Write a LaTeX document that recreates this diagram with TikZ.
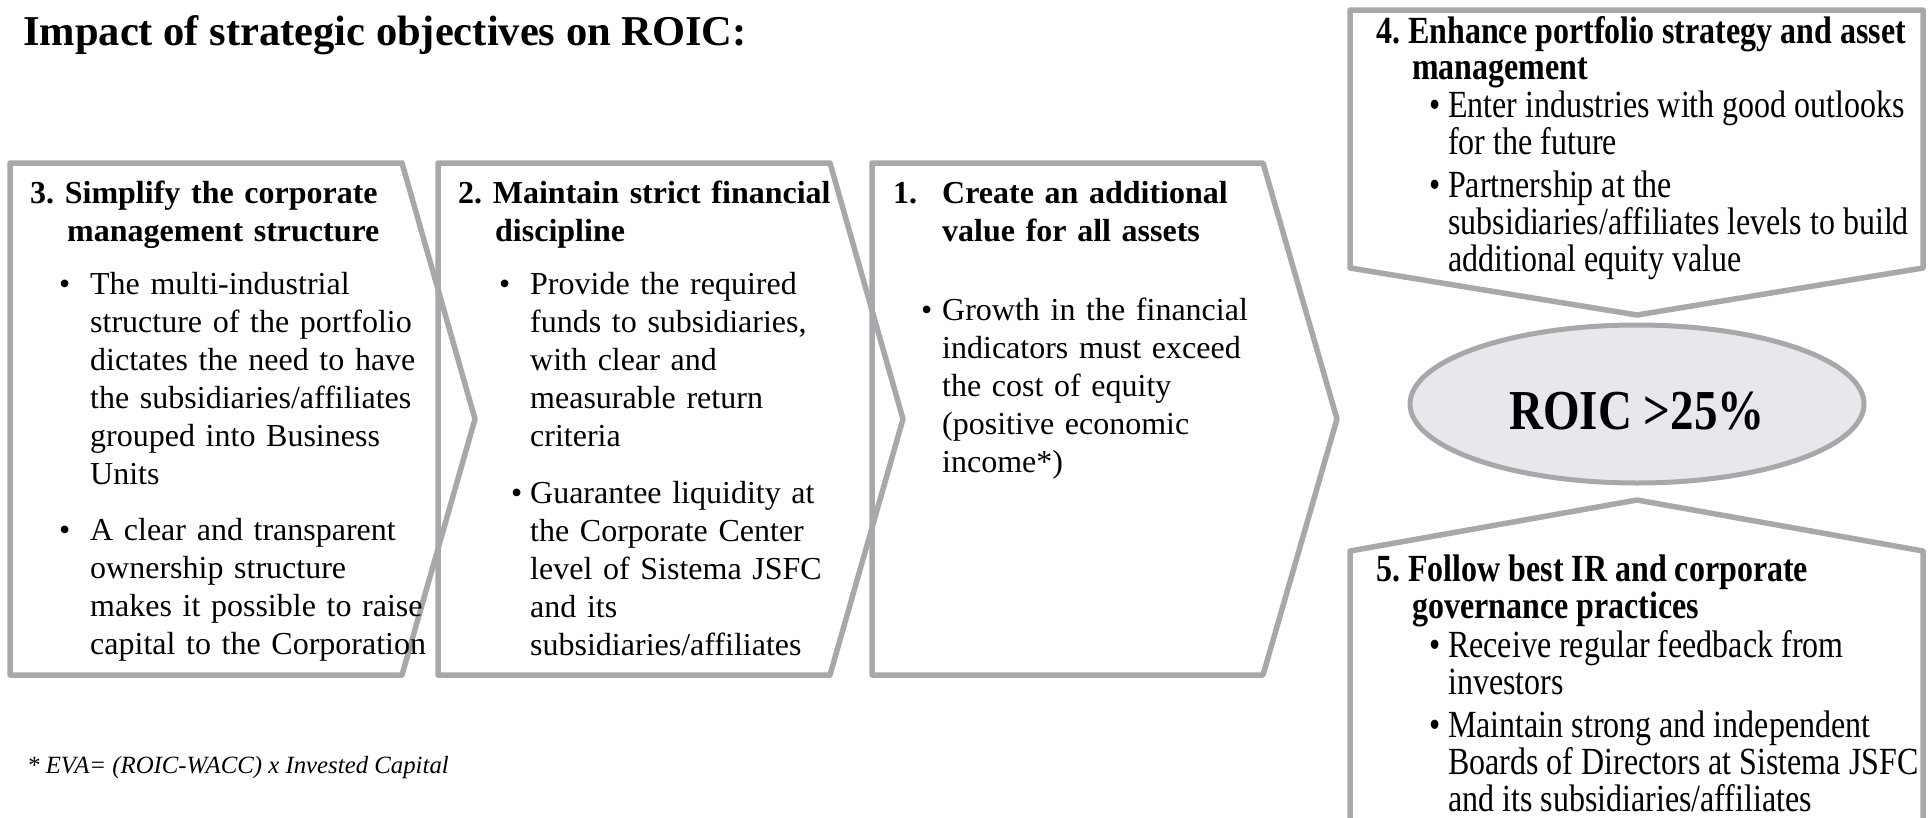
\documentclass[tikz,border=0pt]{standalone}
\usepackage{fontspec}
\usepackage{graphicx}
\setmainfont{Liberation Serif}
\usetikzlibrary{shapes.geometric}
\definecolor{edgegrey}{HTML}{A6A8AB}
\definecolor{ovalfill}{HTML}{E6E8EC}
\newcommand{\nl}{\hfil\break}
\newcommand{\hdline}[2]{\noindent\hangindent=#1\hangafter=1 \textbf{#2}\par}
\newcommand{\bulitem}[3]{\noindent\hangindent=#2\hangafter=1 \makebox[#2][l]{\hspace{#1}\textbullet}#3\par}
\newcommand{\tallbox}[1]{\scalebox{1}[1.2]{\parbox[t]{560pt}{#1}}}
\tikzset{
  outline/.style={draw=edgegrey, line width=5.5pt, line join=round},
  bodytext/.style={anchor=base west, inner sep=0pt, text width=620pt,
    font=\fontsize{32}{38}\selectfont\frenchspacing},
  sidetext/.style={anchor=base west, inner sep=0pt,
    font=\fontsize{32}{30.83}\selectfont\frenchspacing},
}
\begin{document}
\begin{tikzpicture}[x=1pt, y=-1pt]
\useasboundingbox (0,0) rectangle (1931,817);

% title
\node[anchor=base west, inner sep=0pt, font=\fontsize{42.5}{48}\selectfont\bfseries] (title) at (23,45)
  {Impact of strategic objectives on ROIC:};

% chevrons
\draw[outline] (10,163) -- (402,163) -- (475,419) -- (402,675) -- (10,675) -- cycle;
\draw[outline] (438,163) -- (830,163) -- (903,419) -- (830,675) -- (438,675) -- cycle;
\draw[outline] (872,163) -- (1263,163) -- (1337,419) -- (1263,675) -- (872,675) -- cycle;

% box 4 (pointing down)
\draw[outline] (1350,10) -- (1923,10) -- (1923,268) -- (1637,315) -- (1350,268) -- cycle;
% box 5 (pointing up, open at bottom)
\draw[outline] (1350,830) -- (1350,551) -- (1637,500) -- (1923,551) -- (1923,830);

% ellipse
\node[ellipse, draw=edgegrey, line width=5pt, fill=ovalfill, minimum width=454pt, minimum height=158pt,
  inner sep=0pt] (roic) at (1637,404) {};
\node[inner sep=0pt, font=\fontsize{47}{50}\selectfont\bfseries] (roictext) at (1637,411)
  {\scalebox{1}[1.2]{ROIC >25\%}};

% text chevron 3
\node[bodytext] (c3) at (30,203) {%
\hdline{37pt}{3. Simplify the corporate\nl management structure}
\vspace{15pt}
\bulitem{29pt}{60pt}{The multi-industrial\nl structure of the portfolio\nl dictates the need to have\nl the subsidiaries/affiliates\nl grouped into Business\nl Units}
\vspace{18pt}
\bulitem{29pt}{60pt}{A clear and transparent\nl ownership structure\nl makes it possible to raise\nl capital to the Corporation}};

% text chevron 2
\node[bodytext] (c2) at (458,203) {%
\hdline{37pt}{2. Maintain strict financial\nl discipline}
\vspace{15pt}
\bulitem{41pt}{72pt}{Provide the required\nl funds to subsidiaries,\nl with clear and\nl measurable return\nl criteria}
\vspace{19pt}
\bulitem{53pt}{72pt}{Guarantee liquidity at\nl the Corporate Center\nl level of Sistema JSFC\nl and its\nl subsidiaries/affiliates}};

% text chevron 1
\node[bodytext] (c1) at (893,203) {%
\hdline{49pt}{\makebox[49pt][l]{1.}Create an additional\nl value for all assets}
\vspace{41pt}
\bulitem{28pt}{49pt}{Growth in the financial\nl indicators must exceed\nl the cost of equity\nl (positive economic\nl income*)}};

% text box 4
\node[sidetext] (b4) at (1376,43) {\tallbox{%
\hdline{36pt}{4. Enhance portfolio strategy and asset\nl management}
\vspace{0.8pt}
\bulitem{53pt}{72pt}{Enter industries with good outlooks\nl for the future}
\vspace{5pt}
\bulitem{53pt}{72pt}{Partnership at the\nl subsidiaries/affiliates levels to build\nl additional equity value}}};

% text box 5
\node[sidetext] (b5) at (1376,581) {\tallbox{%
\hdline{36pt}{5. Follow best IR and corporate\nl governance practices}
\vspace{2.5pt}
\bulitem{53pt}{72pt}{Receive regular feedback from\nl investors}
\vspace{4.2pt}
\bulitem{53pt}{72pt}{Maintain strong and independent\nl Boards of Directors at Sistema JSFC\nl and its subsidiaries/affiliates}}};

% footnote
\node[anchor=base west, inner sep=0pt, font=\fontsize{24.8}{28}\selectfont\itshape] (note) at (27,773)
  {* EVA= (ROIC-WACC) x Invested Capital};
\end{tikzpicture}
\end{document}
